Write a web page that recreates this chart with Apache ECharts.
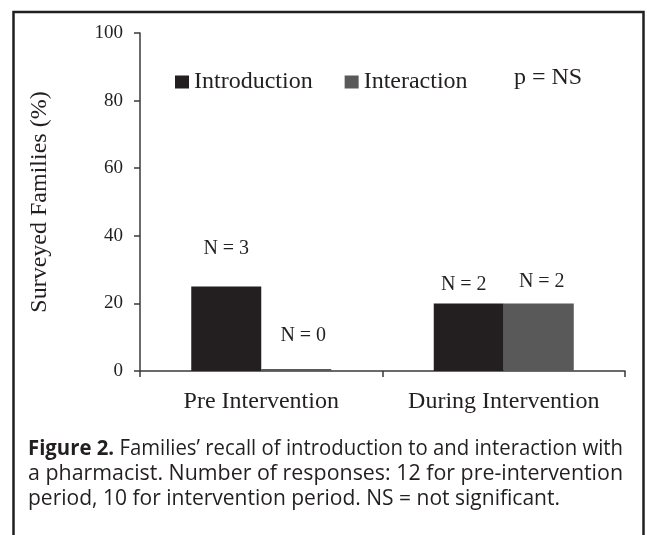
<!DOCTYPE html>
<html>
<head>
<meta charset="utf-8">
<script src="https://cdn.jsdelivr.net/npm/echarts@6/dist/echarts.min.js"></script>
<style>
  html, body { margin: 0; padding: 0; background: #fff; }
  #chart { width: 647px; height: 535px; }
</style>
</head>
<body>
<div id="chart"></div>
<script>
const categories = ['Pre Intervention', 'During Intervention'];
const introduction = [25, 20];
const interaction = [0, 20];
const introductionN = [3, 2];
const interactionN = [0, 2];
const captionLines = [
  ['Figure 2.', ' Families\u2019 recall of introduction to and interaction with'],
  ['', 'a pharmacist. Number of responses: 12 for pre-intervention'],
  ['', 'period, 10 for intervention period. NS = not significant.']
];

// label nudges
const introOffset = [[0, -23], [-5, -4]];
const interactionOffset = [[7, -18], [3, -7]];

const ink = '#231f20';
const serif = '"Liberation Serif", "Times New Roman", serif';
const sans = '"Open Sans", "Noto Sans", sans-serif';

const chart = echarts.init(document.getElementById('chart'));

const measureCtx = document.createElement('canvas').getContext('2d');
function textWidth(text, font) {
  measureCtx.font = font;
  return measureCtx.measureText(text).width;
}

const capSize = 21;
const capTargets = [595, 595, 532];
const capCenters = [449, 474, 499];
const captionGraphics = captionLines.map((parts, i) => {
  const w = textWidth(parts[0], `bold ${capSize}px ${sans}`) + textWidth(parts[1], `${capSize}px ${sans}`);
  const text = parts[0] ? `{b|${parts[0]}}${parts[1]}` : parts[1];
  return {
    type: 'text',
    x: 28,
    y: capCenters[i],
    scaleX: capTargets[i] / w,
    style: {
      text,
      fill: ink,
      font: `${capSize}px ${sans}`,
      fontFamily: sans,
      fontSize: capSize,
      verticalAlign: 'middle',
      rich: { b: { fontWeight: 'bold', fontFamily: sans, fontSize: capSize, fill: ink } }
    }
  };
});

const labelFor = (counts, offsets) => (v, i) => ({
  value: v,
  label: { offset: offsets[i], formatter: `N = ${counts[i]}` }
});

chart.setOption({
  animation: false,
  backgroundColor: '#fff',
  textStyle: { fontFamily: serif, color: ink },
  grid: { left: 140, right: 22, top: 33, bottom: 164 },
  legend: {
    left: 170,
    top: 65,
    itemWidth: 14,
    itemHeight: 13,
    itemGap: 32,
    icon: 'rect',
    textStyle: { fontFamily: serif, fontSize: 24, color: ink },
    data: ['Introduction', 'Interaction']
  },
  xAxis: {
    type: 'category',
    data: categories,
    axisLine: { lineStyle: { color: '#3a3a3a', width: 1.5 } },
    axisTick: { show: true, length: 6, lineStyle: { color: '#3a3a3a', width: 1.5 } },
    axisLabel: { interval: 0, hideOverlap: false, fontFamily: serif, fontSize: 24, color: ink, margin: 19 }
  },
  yAxis: {
    type: 'value',
    min: 0,
    max: 100,
    interval: 20,
    name: 'Surveyed Families (%)',
    nameLocation: 'middle',
    nameGap: 88,
    nameTextStyle: { fontFamily: serif, fontSize: 24, color: ink },
    axisLine: { show: true, lineStyle: { color: '#3a3a3a', width: 1.5 } },
    axisTick: { show: true, length: 6, lineStyle: { color: '#3a3a3a', width: 1.5 } },
    axisLabel: { fontFamily: serif, fontSize: 19, color: ink, margin: 17 },
    splitLine: { show: false }
  },
  series: [
    {
      name: 'Introduction',
      type: 'bar',
      barWidth: 70,
      barGap: '0%',
      barMinHeight: 2,
      itemStyle: { color: ink },
      label: { show: true, position: 'top', fontFamily: serif, fontSize: 20, color: ink },
      data: introduction.map(labelFor(introductionN, introOffset))
    },
    {
      name: 'Interaction',
      type: 'bar',
      barWidth: 70,
      barGap: '0%',
      barMinHeight: 2,
      itemStyle: { color: '#595959' },
      label: { show: true, position: 'top', fontFamily: serif, fontSize: 20, color: ink },
      data: interaction.map(labelFor(interactionN, interactionOffset))
    }
  ],
  graphic: [
    {
      type: 'rect',
      shape: { x: 13.5, y: 12, width: 630, height: 540 },
      style: { fill: 'none', stroke: ink, lineWidth: 2.5 },
      silent: true
    },
    {
      type: 'text',
      x: 514,
      y: 78,
      style: { text: 'p = NS', fill: ink, font: `24px ${serif}`, verticalAlign: 'middle' }
    },
    ...captionGraphics
  ]
});
</script>
</body>
</html>
